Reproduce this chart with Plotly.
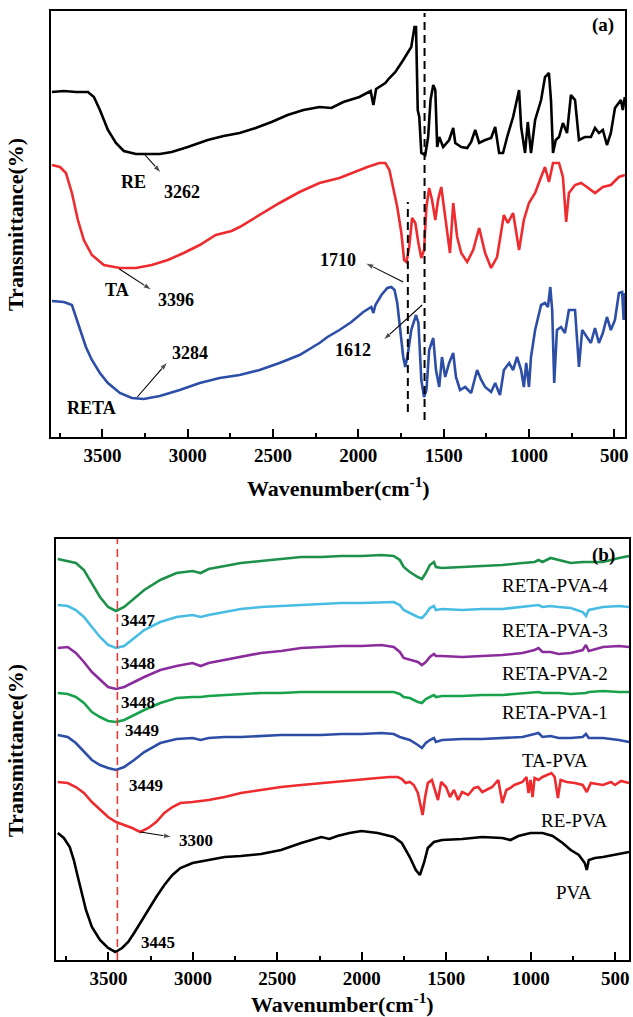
import plotly.graph_objects as go

FONT = "Liberation Serif, Times New Roman, serif"

# ---------------- Panel (a) spectra (wavenumber cm-1, offset transmittance, a.u.) ----------------
RE_WN = [3796,3726,3655,3585,3550,3515,3468,3421,3375,3304,3164,3094,3000,2883,2790,2696,2602,2509,2415,2322,
         2228,2158,2088,1994,1928,1912,1896,1865,1842,1818,1783,1737,1690,1671,1662,1652,1643,1631,1608,1591,
         1577,1561,1549,1538,1526,1503,1468,1444,1432,1397,1362,1339,1315,1292,1257,1222,1198,1175,1152,1128,
         1093,1058,1046,1023,1007,988,964,929,906,883,871,859,843,824,801,777,754,730,707,672,
         637,613,590,567,543,520,496,461,450,438]
RE_T = [345,346,345,345,340,327,307,294,286,283,283,285,290,297,301,304,309,315,322,327,
        330,329,335,340,346,332,348,351,354,359,365,377,390,410,410,327,320,284,282,300,
        337,352,347,290,300,290,297,309,294,290,289,295,307,294,297,299,310,284,284,300,
        320,347,310,284,315,284,317,337,360,364,337,284,297,300,314,304,342,337,297,300,
        300,309,304,307,292,304,329,337,327,340]

TA_WN = [3796,3749,3714,3679,3644,3609,3562,3492,3398,3304,3211,3117,3024,2930,2836,2743,2696,2579,2462,2345,
         2228,2111,2041,1947,1877,1842,1818,1795,1772,1748,1732,1718,1702,1685,1666,1648,1631,1615,1601,1585,
         1568,1549,1533,1514,1498,1479,1463,1444,1421,1397,1362,1327,1292,1257,1222,1187,1147,1124,1093,1058,
         1030,1000,964,929,906,883,859,824,801,782,766,730,695,660,613,567,520,473,438]
TA_T = [272,270,264,244,217,197,182,172,169,169,172,177,184,192,202,206,210,222,234,245,
        254,259,264,270,274,274,267,250,230,204,177,175,190,219,214,194,179,187,230,249,
        237,217,237,250,230,207,184,234,200,184,175,187,209,184,169,180,222,214,224,187,
        217,234,244,260,270,255,274,274,260,215,244,252,254,250,244,250,252,260,262]

RETA_WN = [3796,3726,3679,3655,3632,3597,3562,3515,3468,3398,3328,3258,3164,3047,2930,2813,2696,2579,2462,2345,
           2228,2181,2111,2041,1971,1924,1912,1900,1865,1830,1807,1788,1772,1760,1737,1725,1709,1690,1671,1662,
           1648,1631,1615,1601,1585,1561,1545,1526,1510,1491,1468,1444,1428,1404,1374,1339,1304,1280,1257,1222,
           1198,1170,1147,1116,1093,1070,1046,1030,1016,1000,988,964,929,906,889,875,864,852,836,812,
           789,766,730,707,688,660,637,613,590,567,543,520,496,473,454,445,438]
RETA_T = [136,135,132,120,107,90,77,64,54,44,39,38,41,47,54,59,62,67,74,82,
          94,100,107,115,125,130,124,132,142,149,150,147,134,114,80,70,84,107,119,122,
          114,57,40,47,87,99,67,50,80,60,74,84,60,47,50,44,67,57,50,45,
          54,42,67,74,67,80,67,50,74,50,80,107,132,134,130,150,127,54,107,110,
          104,127,127,70,107,100,94,109,94,104,120,107,117,144,145,117,144]

# ---------------- Panel (b) spectra ----------------
WN_B = [3800,3741,3693,3645,3598,3550,3502,3455,3407,3348,3288,3193,3097,3002,2954,2907,2812,2716,2597,2478,
        2359,2240,2121,2002,1883,1811,1775,1752,1716,1668,1644,1621,1597,1573,1561,1525,1406,1287,1168,1049,
        977,954,930,882,835,763,692,673,656,572,477,418]
RETA_PVA4 = [401,399,397,390,377,363,353,349,353,361,370,380,387,389,387,391,394,397,399,401,
             403,403,404,404,405,404,400,393,388,383,381,387,395,398,393,392,393,394,395,397,
             398,400,398,402,400,397,398,398,398,398,402,404]
RETA_PVA3 = [355,354,350,343,333,323,315,312,314,322,330,338,343,345,343,345,348,351,353,354,
             355,356,357,357,358,358,355,350,347,343,342,346,352,354,350,351,350,351,351,353,
             354,355,353,354,353,352,348,344,350,353,354,353]
RETA_PVA2 = [312,313,307,298,288,280,273,271,273,278,283,290,294,297,294,297,300,303,307,309,
             312,313,314,314,315,313,308,302,300,298,295,298,303,306,304,304,303,304,305,307,
             310,312,308,308,306,307,310,315,309,313,314,313]
RETA_PVA1 = [267,266,263,257,248,243,239,238,240,245,250,257,262,263,263,264,265,266,267,267,
             268,268,268,268,268,268,266,263,262,258,257,261,263,265,263,264,264,265,265,267,
             268,268,267,267,267,266,267,267,268,269,268,268]
TA_PVA = [225,223,217,208,200,195,192,190,193,200,208,217,221,222,220,222,223,223,224,225,
          225,225,226,226,227,226,223,222,220,215,212,217,220,222,218,220,221,221,222,223,
          226,227,223,224,222,222,223,226,222,222,220,218]

RE_PVA_WN = [3800,3741,3693,3645,3598,3550,3502,3455,3407,3359,3312,3264,3217,3169,3121,3074,3002,2907,2812,2716,
             2597,2478,2359,2240,2121,2002,1906,1835,1787,1763,1740,1716,1692,1668,1649,1640,1625,1609,1585,1561,
             1549,1530,1501,1478,1454,1430,1406,1370,1335,1311,1287,1263,1228,1192,1168,1144,1120,1097,1049,1025,
             1013,1001,989,977,954,930,906,877,858,839,823,787,739,692,668,644,572,525,501,465,418]
RE_PVA = [178,177,173,167,158,150,143,138,135,132,128,132,138,147,153,157,158,160,163,167,
          170,173,175,177,179,181,182,183,183,181,177,178,175,167,153,145,163,177,180,167,
          160,178,173,163,170,160,168,165,172,173,168,170,173,180,157,170,172,175,178,183,
          167,180,163,182,180,183,185,187,183,162,180,178,177,175,168,177,175,178,175,179,177]

PVA_WN = [3800,3764,3729,3705,3681,3657,3633,3598,3550,3502,3459,3419,3383,3348,3312,3264,3217,3169,3121,3074,
          3002,2907,2812,2716,2597,2478,2359,2240,2192,2145,2073,2002,1906,1811,1763,1716,1680,1656,1632,1609,
          1573,1525,1406,1287,1168,1120,1073,1001,930,870,811,763,715,680,668,656,620,572,501,453,418]
PVA = [127,122,113,100,83,67,50,33,20,12,8,12,18,27,37,50,63,75,85,92,
       97,100,103,104,106,110,117,123,121,124,127,129,127,123,117,103,90,85,97,112,
       118,120,121,123,122,120,124,127,127,124,117,110,105,97,90,100,102,103,105,107,108]

# marker lines
A_LINES_WN = [1710, 1612]
B_LINE_WN = 3447
TICK_VALS = [500, 1000, 1500, 2000, 2500, 3000, 3500]

fig = go.Figure()

def add(x, y, color, xa, ya, width=2.6):
    fig.add_trace(go.Scatter(x=x, y=y, mode="lines", line=dict(color=color, width=width),
                             xaxis=xa, yaxis=ya, hoverinfo="skip"))

add(RE_WN, RE_T, "#000000", "x", "y")
add(TA_WN, TA_T, "#ee2b2f", "x", "y")
add(RETA_WN, RETA_T, "#2d4ea6", "x", "y")

add(WN_B, RETA_PVA4, "#1d9149", "x2", "y2")
add(WN_B, RETA_PVA3, "#48bde3", "x2", "y2")
add(WN_B, RETA_PVA2, "#8b2c9c", "x2", "y2")
add(WN_B, RETA_PVA1, "#17a24b", "x2", "y2")
add(WN_B, TA_PVA, "#2d4ea6", "x2", "y2")
add(RE_PVA_WN, RE_PVA, "#ee2b2f", "x2", "y2")
add(PVA_WN, PVA, "#000000", "x2", "y2")

# dashed marker lines
fig.add_trace(go.Scatter(x=[A_LINES_WN[0]] * 2, y=[25, 235], mode="lines",
                         line=dict(color="black", width=2, dash="8px,5px"), xaxis="x", yaxis="y", hoverinfo="skip"))
fig.add_trace(go.Scatter(x=[A_LINES_WN[1]] * 2, y=[17, 424], mode="lines",
                         line=dict(color="black", width=2, dash="8px,5px"), xaxis="x", yaxis="y", hoverinfo="skip"))
fig.add_trace(go.Scatter(x=[B_LINE_WN] * 2, y=[0, 421], mode="lines",
                         line=dict(color="#e83a3a", width=1.6, dash="8px,5px"), xaxis="x2", yaxis="y2", hoverinfo="skip"))

def arrow(x0, y0, x1, y1, xa, ya):
    fig.add_trace(go.Scatter(x=[x0, x1], y=[y0, y1], mode="lines+markers",
                             line=dict(color="black", width=1.1),
                             marker=dict(symbol="arrow", size=[0, 9], angleref="previous", color="black"),
                             xaxis=xa, yaxis=ya, hoverinfo="skip"))

# annotation arrows (tail on the peak -> head near label)
arrow(3261, 284, 3156, 264, "x", "y")
arrow(3401, 168, 3211, 147, "x", "y")
arrow(1737, 155, 1959, 174, "x", "y")
arrow(1626, 132, 1854, 97, "x", "y")
arrow(3296, 40, 3118, 75, "x", "y")
arrow(3311, 128, 3123, 123, "x2", "y2")

def axis_common():
    return dict(showline=True, linecolor="black", linewidth=2, mirror=True,
                showgrid=False, zeroline=False)

xa = axis_common()
xa.update(ticks="inside", ticklen=8, tickwidth=1.5, tickcolor="black",
          tickvals=TICK_VALS, tickfont=dict(family=FONT, size=19, color="black", weight="bold"),
          minor=dict(dtick=250, tick0=0, ticks="inside", ticklen=4, tickwidth=1.5, tickcolor="black"))
ya = axis_common()
ya.update(showticklabels=False, ticks="")

fig.update_layout(
    width=633, height=1017, margin=dict(l=0, r=0, t=0, b=0),
    paper_bgcolor="white", plot_bgcolor="white", showlegend=False,
    xaxis=dict(xa, domain=[51/633, 628/633], range=[3803, 437], anchor="y"),
    yaxis=dict(ya, domain=[1-437/1017, 1-11/1017], range=[0, 426], anchor="x"),
    xaxis2=dict(xa, domain=[56/633, 632/633], range=[3812, 418], anchor="y2"),
    yaxis2=dict(ya, domain=[1-960/1017, 1-539/1017], range=[0, 421], anchor="x2"),
)

ann = []
def label(text, x, y, ref, size=18, bold=True, xanchor="center"):
    t = f"<b>{text}</b>" if bold else text
    ann.append(dict(text=t, x=x, y=y, xref="x" + ref, yref="y" + ref, showarrow=False,
                    xanchor=xanchor, yanchor="middle",
                    font=dict(family=FONT, size=size, color="black")))

# panel (a)
label("(a)", 564, 412, "", 19)
label("RE", 3319, 255, "", 18)
label("3262", 3036, 245, "", 18)
label("TA", 3412, 147, "", 18)
label("3396", 3071, 137, "", 18)
label("1710", 2122, 177, "", 18)
label("1612", 2029, 87, "", 18)
label("RETA", 3564, 29, "", 18)
label("3284", 2989, 84, "", 18)

# panel (b)
label("(b)", 571, 405, "2", 19)
for name, y in [("RETA-PVA-4", 375), ("RETA-PVA-3", 330), ("RETA-PVA-2", 287),
                ("RETA-PVA-1", 248), ("TA-PVA", 200)]:
    label(name, 855, y, "2", 19, bold=False)
label("RE-PVA", 742, 140, "2", 19, bold=False)
label("PVA", 742, 68, "2", 19, bold=False)
label("3447", 3323, 340, "2", 17)
label("3448", 3323, 297, "2", 17)
label("3448", 3323, 258, "2", 17)
label("3449", 3300, 230, "2", 17)
label("3449", 3276, 175, "2", 17)
label("3300", 2981, 120, "2", 17)
label("3445", 3205, 18, "2", 17)

# axis titles
for yc in [1 - 224/1017, 1 - 750/1017]:
    ann.append(dict(text="<b>Transmittance(%)</b>", x=15/633, y=yc, xref="paper", yref="paper",
                    textangle=-90, showarrow=False, xanchor="center", yanchor="middle",
                    font=dict(family=FONT, size=22, color="black")))
for yc, xc in [(1 - 487/1017, 340/633), (1 - 1003/1017, 344/633)]:
    ann.append(dict(text="<b>Wavenumber(cm<sup>-1</sup>)</b>", x=xc, y=yc, xref="paper", yref="paper",
                    showarrow=False, xanchor="center", yanchor="middle",
                    font=dict(family=FONT, size=22, color="black")))

fig.update_layout(annotations=ann)
fig.write_html("out.html", config={"displayModeBar": False},
               post_script="document.body.style.margin='0';document.body.style.padding='0';")
